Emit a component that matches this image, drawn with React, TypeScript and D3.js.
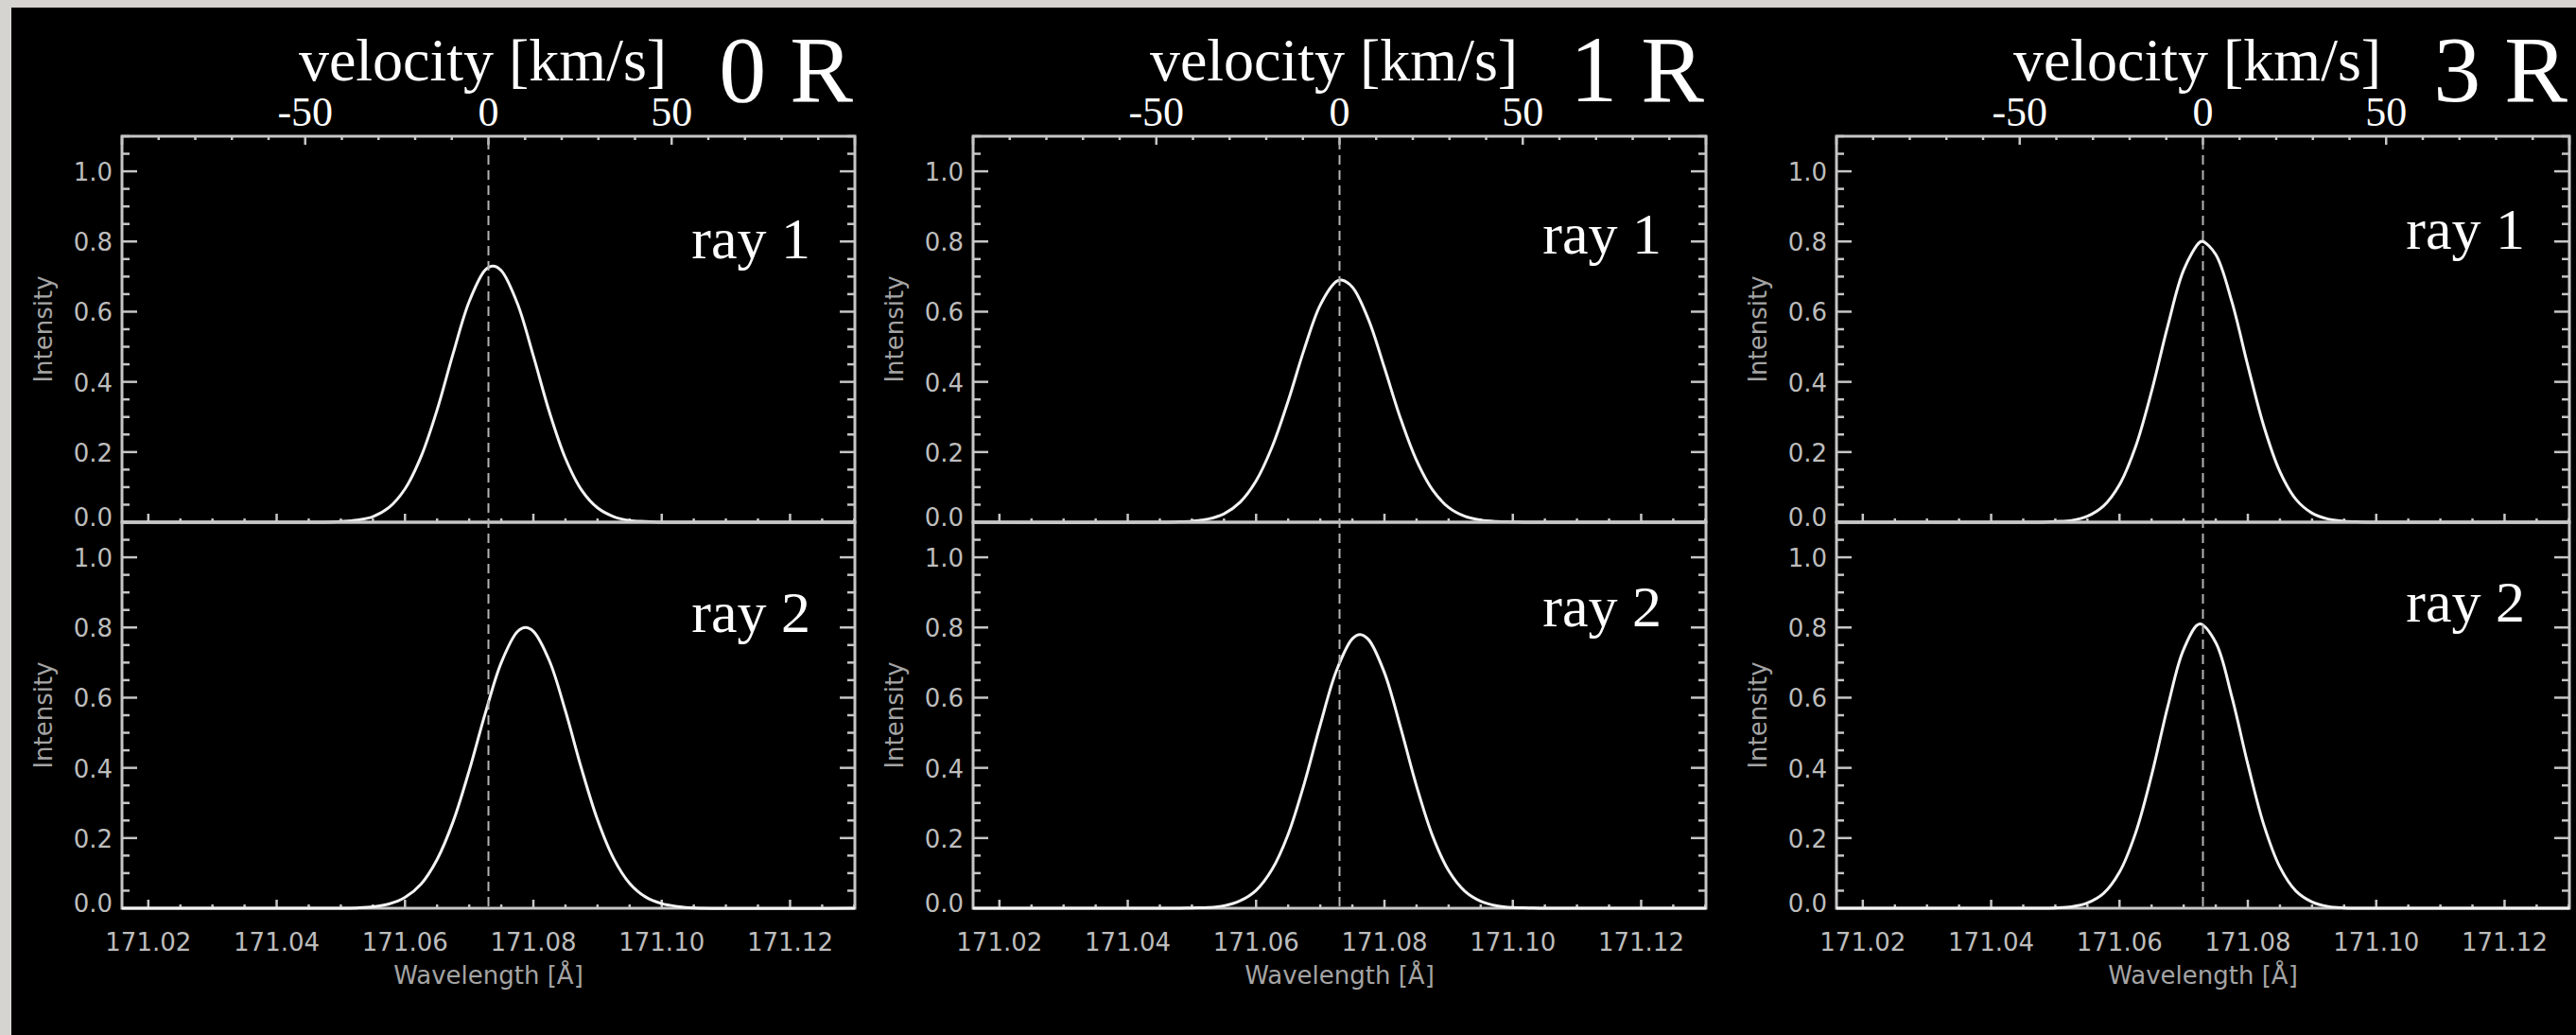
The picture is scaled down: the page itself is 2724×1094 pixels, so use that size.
import React from "react";
import * as d3 from "d3";

// ---------- data ----------
const WAVE_DOMAIN = [171.0159, 171.1301];
const VEL_DOMAIN = [-100, 100];
const REST_WAVELENGTH = 171.073;
const INTENSITY_DOMAIN = [0, 1.1];

const panelLabels = ["0 R", "1 R", "3 R"];
const rayLabels = ["ray 1", "ray 2"];

const waveTickLabels = [171.02, 171.04, 171.06, 171.08, 171.1, 171.12];
const intensityTickLabels = [0, 0.2, 0.4, 0.6, 0.8, 1.0];
const velocityTickLabels = [-50, 0, 50];

const wavelengthGrid = [
  171.045, 171.0475, 171.05, 171.0525, 171.055, 171.0575, 171.06, 171.0625,
  171.065, 171.0675, 171.07, 171.0725, 171.075, 171.0775, 171.08, 171.0825,
  171.085, 171.0875, 171.09, 171.0925, 171.095, 171.0975, 171.1, 171.1025, 171.105,
];

const r0Ray1 = [0.000, 0.000, 0.002, 0.006, 0.016, 0.042, 0.095, 0.187, 0.320, 0.481, 0.629, 0.719, 0.717, 0.624, 0.474, 0.314, 0.182, 0.092, 0.041, 0.016, 0.005, 0.002, 0.000, 0.000, 0.000];
const r0Ray2 = [0.000, 0.000, 0.000, 0.001, 0.004, 0.012, 0.031, 0.069, 0.139, 0.247, 0.392, 0.555, 0.700, 0.788, 0.789, 0.705, 0.562, 0.398, 0.252, 0.142, 0.071, 0.032, 0.013, 0.005, 0.001];
const r1Ray1 = [0.000, 0.001, 0.003, 0.009, 0.024, 0.057, 0.118, 0.215, 0.346, 0.493, 0.619, 0.686, 0.670, 0.578, 0.440, 0.296, 0.176, 0.092, 0.042, 0.017, 0.006, 0.002, 0.001, 0.000, 0.000];
const r1Ray2 = [0.000, 0.000, 0.001, 0.002, 0.007, 0.021, 0.051, 0.111, 0.211, 0.355, 0.523, 0.676, 0.768, 0.766, 0.671, 0.516, 0.348, 0.206, 0.107, 0.049, 0.020, 0.007, 0.002, 0.001, 0.000];
const r3Ray1 = [0.000, 0.000, 0.002, 0.005, 0.017, 0.046, 0.107, 0.215, 0.373, 0.558, 0.719, 0.798, 0.763, 0.629, 0.446, 0.273, 0.144, 0.065, 0.026, 0.009, 0.003, 0.001, 0.000, 0.000, 0.000];
const r3Ray2 = [0.000, 0.000, 0.001, 0.004, 0.015, 0.042, 0.103, 0.214, 0.379, 0.573, 0.738, 0.810, 0.757, 0.603, 0.410, 0.237, 0.117, 0.049, 0.018, 0.005, 0.001, 0.000, 0.000, 0.000, 0.000];

// peak positions [wavelength, intensity]
const r0Peaks = [[171.0737, 0.730], [171.0788, 0.800]];
const r1Peaks = [[171.0733, 0.690], [171.0762, 0.780]];
const r3Peaks = [[171.0730, 0.800], [171.0727, 0.810]];

const seriesByPanel = [
  [r0Ray1, r0Ray2],
  [r1Ray1, r1Ray2],
  [r3Ray1, r3Ray2],
];
const peaksByPanel = [r0Peaks, r1Peaks, r3Peaks];

// ---------- layout ----------
const W = 2724;
const H = 1094;
const PANEL_LEFT = [129, 1029, 1942];
const PANEL_W = 775;
const ROWS = [
  [144, 552],
  [552, 960],
];
const RAY_BASELINE = [
  [273, 268, 263],
  [668, 662, 657],
];

const AXIS = "#c6c6c6";
const TICKLBL = "#bdbdbd";
const TITLE = "#a4a4a4";
const SANS = "'DejaVu Sans', Arial, sans-serif";
const SERIF = "'Liberation Serif', 'Times New Roman', serif";

function buildPoints(vals: number[], peak: number[]) {
  const pts: [number, number][] = [[WAVE_DOMAIN[0], 0]];
  wavelengthGrid.forEach((w, i) => pts.push([w, vals[i]]));
  const near = wavelengthGrid.some((w) => Math.abs(w - peak[0]) < 0.0004);
  if (!near) pts.push([peak[0], peak[1]]);
  pts.push([WAVE_DOMAIN[1], 0]);
  pts.sort((a, b) => a[0] - b[0]);
  return pts;
}

function Panel({ pi }: { pi: number }) {
  const left = PANEL_LEFT[pi];
  const right = left + PANEL_W;
  const x = d3.scaleLinear().domain(WAVE_DOMAIN).range([left, right]);
  const v = d3.scaleLinear().domain(VEL_DOMAIN).range([left, right]);
  const xMinor = d3.range(171.02, 171.1301, 0.005).map((d) => +d.toFixed(3));
  const vMinor = d3.range(-100, 101, 10);
  const yMinor = d3.range(0, 1.1001, 0.05).map((d) => +d.toFixed(2));

  const elems: React.ReactNode[] = [];

  ROWS.forEach(([top, bottom], ri) => {
    const y = d3.scaleLinear().domain(INTENSITY_DOMAIN).range([bottom, top]);
    const line = d3
      .line<[number, number]>()
      .x((d) => x(d[0]))
      .y((d) => y(d[1]))
      .curve(d3.curveCatmullRom.alpha(0.5));
    const pts = buildPoints(seriesByPanel[pi][ri], peaksByPanel[pi][ri]);

    // y ticks left & right
    yMinor.forEach((t, k) => {
      const isMajor = Math.abs(t * 5 - Math.round(t * 5)) < 1e-6;
      const len = isMajor ? 16 : 8;
      const yy = y(t);
      if (t === 0 || t > 1.1) return;
      elems.push(
        <line key={`yl${ri}-${k}`} x1={left} x2={left + len} y1={yy} y2={yy} stroke={AXIS} strokeWidth={2.5} />,
        <line key={`yr${ri}-${k}`} x1={right} x2={right - len} y1={yy} y2={yy} stroke={AXIS} strokeWidth={2.5} />
      );
    });
    intensityTickLabels.forEach((t, k) => {
      elems.push(
        <text key={`ylab${ri}-${k}`} x={left - 10} y={y(t) + (t === 0 ? -5 : 1)} fill={TICKLBL} fontFamily={SANS} fontSize={26} textAnchor="end" dominantBaseline="central">
          {t.toFixed(1)}
        </text>
      );
    });
    // bottom axis ticks (pointing up)
    xMinor.forEach((t, k) => {
      const isMajor = Math.abs(t * 50 - Math.round(t * 50)) < 1e-6;
      const len = isMajor ? 9 : 4;
      elems.push(
        <line key={`xb${ri}-${k}`} x1={x(t)} x2={x(t)} y1={bottom} y2={bottom - len} stroke={AXIS} strokeWidth={2.5} />
      );
    });
    if (ri === 0) {
      // velocity ticks on top (pointing down)
      vMinor.forEach((t, k) => {
        const len = t % 50 === 0 ? 9 : 4;
        elems.push(
          <line key={`vt${k}`} x1={v(t)} x2={v(t)} y1={top} y2={top + len} stroke={AXIS} strokeWidth={2.5} />
        );
      });
    }
    // frame
    elems.push(
      <rect key={`frame${ri}`} x={left} y={top} width={PANEL_W} height={bottom - top} fill="none" stroke={AXIS} strokeWidth={3} />
    );
    // curve
    elems.push(
      <path key={`curve${ri}`} d={line(pts) || ""} fill="none" stroke="#f4f4f4" strokeWidth={3} strokeLinejoin="round" />
    );
    // Intensity title
    const cy = (top + bottom) / 2;
    elems.push(
      <text key={`ititle${ri}`} x={left - 83} y={cy} fill={TITLE} fontFamily={SANS} fontSize={26} textAnchor="middle" dominantBaseline="central" transform={`rotate(-90 ${left - 83} ${cy})`}>
        Intensity
      </text>
    );
    // ray label
    elems.push(
      <text key={`ray${ri}`} x={right - 47} y={RAY_BASELINE[ri][pi]} fill="#ffffff" fontFamily={SERIF} fontSize={62} textAnchor="end">
        {rayLabels[ri]}
      </text>
    );
  });

  // dashed rest line
  elems.push(
    <line key="rest" x1={x(REST_WAVELENGTH)} x2={x(REST_WAVELENGTH)} y1={ROWS[0][0] + 4} y2={ROWS[1][1]} stroke="#b4b4b4" strokeWidth={2} strokeDasharray="10,6" />
  );

  // wavelength labels
  waveTickLabels.forEach((t, k) => {
    elems.push(
      <text key={`xlab${k}`} x={x(t)} y={1005} fill={TICKLBL} fontFamily={SANS} fontSize={26} textAnchor="middle">
        {t.toFixed(2)}
      </text>
    );
  });
  elems.push(
    <text key="wtitle" x={(left + right) / 2} y={1040} fill={TITLE} fontFamily={SANS} fontSize={26} textAnchor="middle">
      Wavelength [Å]
    </text>
  );

  // velocity labels (serif, white)
  velocityTickLabels.forEach((t, k) => {
    elems.push(
      <text key={`vlab${k}`} x={v(t)} y={133} fill="#ffffff" fontFamily={SERIF} fontSize={44} textAnchor="middle">
        {t}
      </text>
    );
  });
  elems.push(
    <text key="vtitle" x={v(0) - 6} y={85} fill="#ffffff" fontFamily={SERIF} fontSize={64} textAnchor="middle">
      velocity [km/s]
    </text>
  );
  elems.push(
    <text key="ptitle" x={right - 2} y={107} fill="#ffffff" fontFamily={SERIF} fontSize={100} textAnchor="end">
      {panelLabels[pi]}
    </text>
  );

  return <g>{elems}</g>;
}

export default function App() {
  return (
    <svg width={W} height={H} style={{ position: "absolute", left: 0, top: 0, display: "block" }}>
      <rect x={0} y={0} width={W} height={H} fill="#d6d4d0" />
      <rect x={12} y={8} width={W - 12} height={H - 8} fill="#000000" />
      {[0, 1, 2].map((pi) => (
        <Panel key={pi} pi={pi} />
      ))}
    </svg>
  );
}
